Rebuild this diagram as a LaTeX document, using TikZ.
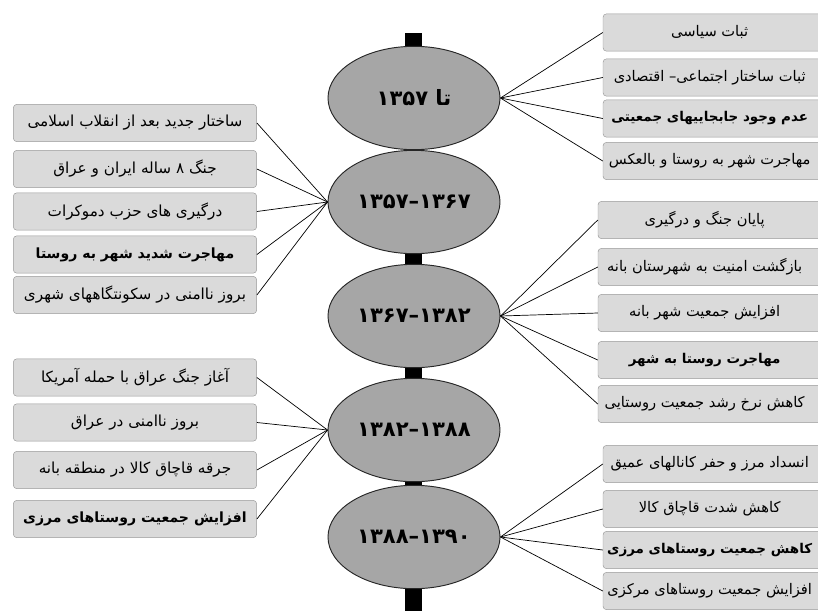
\documentclass[tikz,border=0pt]{standalone}
\usepackage{fontspec}
\usepackage{tikz}
\usetikzlibrary{shapes}
\TeXXeTstate=1
\newfontfamily\farsi[Script=Arabic]{DejaVu Sans}
\definecolor{boxgray}{HTML}{DADADA}
\definecolor{edgegray}{HTML}{9A9A9A}
\definecolor{eragray}{HTML}{A6A6A6}
\tikzset{
  era/.style={shape=ellipse,draw=black!85,thick,fill=eragray,inner sep=0pt,
    minimum width=5.16cm,minimum height=3.1cm,font=\farsi\bfseries\fontsize{18}{20}\selectfont},
  factbox/.style={shape=rectangle,rounded corners=3pt,draw=edgegray,fill=boxgray,
    inner sep=0pt,minimum width=7.3cm,minimum height=1.12cm,font=\farsi\fontsize{13}{15}\selectfont},
  rightbox/.style={factbox,minimum width=9cm,font=\farsi\fontsize{12.5}{15}\selectfont},
  strong/.style={font=\farsi\bfseries\fontsize{12}{14}\selectfont},
  rstrong/.style={font=\farsi\bfseries\fontsize{11.5}{14}\selectfont},
  link/.style={draw=black,line width=0.6pt}
}
\newcommand{\era}[4]{\node[era] (#1) at ( #2 , #3 ) {#4};}
\newcommand{\fact}[5]{\node[#2] (#1) at ( #3 , #4 ) {#5};}
% right boxes run past the page edge, so their text sits left of centre
\newcommand{\rfact}[5]{\node[rightbox,#2] (#1) at ( #3 , #4 ) {#5\hspace*{2.6cm}};}
\newcommand{\joint}[2]{\draw[link] (#1) -- (#2);}

\begin{document}
\begin{tikzpicture}[x=0.03cm,y=-0.03cm]
\useasboundingbox (0,0) rectangle (818,610);
\clip (0,0) rectangle (818,610);
% the time bar
\coordinate (bartop) at (413.5,33);
\coordinate (barbot) at (413.5,612);
\draw[line width=0.51cm] (bartop) -- (barbot);
% eras
\era{e1}{414}{98}{\beginR تا ۱۳۵۷\endR}
\era{e2}{414}{202}{\beginR ۱۳۶۷–۱۳۵۷\endR}
\era{e3}{414}{316}{\beginR ۱۳۸۲–۱۳۶۷\endR}
\era{e4}{414}{430}{\beginR ۱۳۸۸–۱۳۸۲\endR}
\era{e5}{414}{537}{\beginR ۱۳۹۰–۱۳۸۸\endR}
% right of era 1
\rfact{r11}{}{753}{32.5}{\beginR ثبات سیاسی\endR}
\rfact{r12}{}{753}{77.5}{\beginR ثبات ساختار اجتماعی– اقتصادی\endR}
\rfact{r13}{rstrong}{753}{118.5}{\beginR عدم وجود جابجاییهای جمعیتی\endR}
\rfact{r14}{}{753}{161}{\beginR مهاجرت شهر به روستا و بالعکس\endR}
% left of era 2
\fact{l21}{factbox}{135}{123}{\beginR ساختار جدید بعد از انقلاب اسلامی\endR}
\fact{l22}{factbox}{135}{169}{\beginR جنگ ۸ ساله ایران و عراق\endR}
\fact{l23}{factbox}{135}{211.5}{\beginR درگیری های حزب دموکرات\endR}
\fact{l24}{factbox,strong}{135}{254.5}{\beginR مهاجرت شدید شهر به روستا\endR}
\fact{l25}{factbox}{135}{295}{\beginR بروز ناامنی در سکونتگاههای شهری\endR}
% right of era 3
\rfact{r31}{}{748}{220}{\beginR پایان جنگ و درگیری\endR}
\rfact{r32}{}{748}{267}{\beginR بازگشت امنیت به شهرستان بانه\endR}
\rfact{r33}{}{748}{313}{\beginR افزایش جمعیت شهر بانه\endR}
\rfact{r34}{rstrong}{748}{360}{\beginR مهاجرت روستا به شهر\endR}
\rfact{r35}{}{748}{404}{\beginR کاهش نرخ رشد جمعیت روستایی\endR}
% left of era 4
\fact{l41}{factbox}{135}{377.5}{\beginR آغاز جنگ عراق با حمله آمریکا\endR}
\fact{l42}{factbox}{135}{422.5}{\beginR بروز ناامنی در عراق\endR}
\fact{l43}{factbox}{135}{470}{\beginR جرقه قاچاق کالا در منطقه بانه\endR}
\fact{l44}{factbox,strong}{135}{519}{\beginR افزایش جمعیت روستاهای مرزی\endR}
% right of era 5
\rfact{r51}{}{753}{464}{\beginR انسداد مرز و حفر کانالهای عمیق\endR}
\rfact{r52}{}{753}{509}{\beginR کاهش شدت قاچاق کالا\endR}
\rfact{r53}{rstrong}{753}{550}{\beginR کاهش جمعیت روستاهای مرزی\endR}
\rfact{r54}{}{753}{591}{\beginR افزایش جمعیت روستاهای مرکزی\endR}
% links
\foreach \b in {r11,r12,r13,r14} {\joint{e1.east}{\b.west}}
\foreach \b in {l21,l22,l23,l24,l25} {\joint{e2.west}{\b.east}}
\foreach \b in {r31,r32,r33,r34,r35} {\joint{e3.east}{\b.west}}
\foreach \b in {l41,l42,l43,l44} {\joint{e4.west}{\b.east}}
\foreach \b in {r51,r52,r53,r54} {\joint{e5.east}{\b.west}}
\end{tikzpicture}
\end{document}
